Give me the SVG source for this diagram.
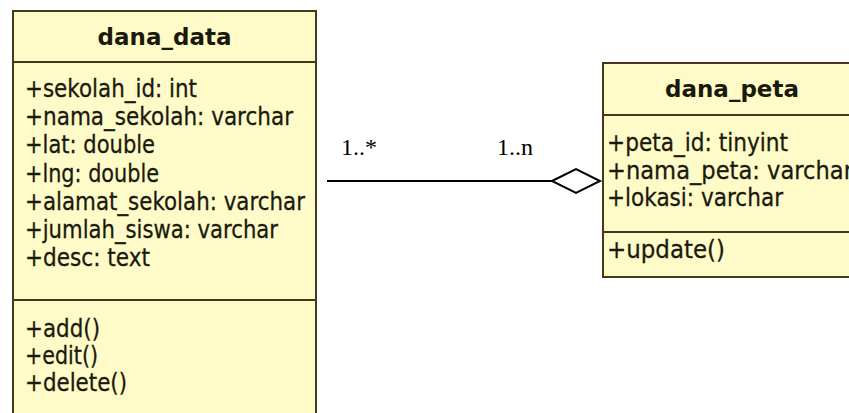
<svg xmlns="http://www.w3.org/2000/svg" width="849" height="413" viewBox="0 0 849 413">
<style>
.box{fill:#fefbc8;stroke:#47381c;stroke-width:2}
.div{stroke:#47381c;stroke-width:2}
.t{font-family:"DejaVu Sans",Verdana,sans-serif;font-size:24px;fill:#1a1a0c;stroke:#1a1a0c;stroke-width:0.3}
.h{font-family:"DejaVu Sans",Verdana,sans-serif;font-size:23px;font-weight:bold;fill:#1a1a0c;text-anchor:middle}
.m{font-family:"Liberation Serif","Times New Roman",serif;font-size:24px;fill:#000}
.conn{stroke:#000;stroke-width:2;fill:none}
</style>
<rect width="849" height="413" fill="#fff"/>
<g id="dana_data">
<rect class="box" x="13" y="11" width="303" height="420"/>
<line class="div" x1="13" y1="62" x2="316" y2="62"/>
<line class="div" x1="13" y1="300" x2="316" y2="300"/>
<text class="h" x="164.5" y="45">dana_data</text>
<text class="t" x="25" y="97" textLength="172" lengthAdjust="spacingAndGlyphs">+sekolah_id: int</text>
<text class="t" x="25" y="125" textLength="268" lengthAdjust="spacingAndGlyphs">+nama_sekolah: varchar</text>
<text class="t" x="25" y="153" textLength="130" lengthAdjust="spacingAndGlyphs">+lat: double</text>
<text class="t" x="25" y="182" textLength="134" lengthAdjust="spacingAndGlyphs">+lng: double</text>
<text class="t" x="25" y="210" textLength="280" lengthAdjust="spacingAndGlyphs">+alamat_sekolah: varchar</text>
<text class="t" x="25" y="238" textLength="253" lengthAdjust="spacingAndGlyphs">+jumlah_siswa: varchar</text>
<text class="t" x="25" y="266" textLength="125" lengthAdjust="spacingAndGlyphs">+desc: text</text>
<text class="t" x="25" y="337" textLength="75" lengthAdjust="spacingAndGlyphs">+add()</text>
<text class="t" x="25" y="364" textLength="73" lengthAdjust="spacingAndGlyphs">+edit()</text>
<text class="t" x="25" y="391" textLength="102" lengthAdjust="spacingAndGlyphs">+delete()</text>
</g>
<g id="dana_peta">
<rect class="box" x="603" y="63" width="260" height="214"/>
<line class="div" x1="603" y1="115" x2="863" y2="115"/>
<line class="div" x1="603" y1="232" x2="863" y2="232"/>
<text class="h" x="732" y="97">dana_peta</text>
<text class="t" x="607" y="151" textLength="181" lengthAdjust="spacingAndGlyphs">+peta_id: tinyint</text>
<text class="t" x="607" y="179" textLength="246" lengthAdjust="spacingAndGlyphs">+nama_peta: varchar</text>
<text class="t" x="607" y="206" textLength="176" lengthAdjust="spacingAndGlyphs">+lokasi: varchar</text>
<text class="t" x="607" y="258" textLength="118" lengthAdjust="spacingAndGlyphs">+update()</text>
</g>
<g id="connectors">
<line class="conn" x1="327" y1="181" x2="552" y2="181"/>
<polygon class="conn" points="552,181 576,169 600,181 576,193" fill="#fff"/>
<text class="m" x="341" y="155">1..*</text>
<text class="m" x="497" y="155">1..n</text>
</g>
</svg>
